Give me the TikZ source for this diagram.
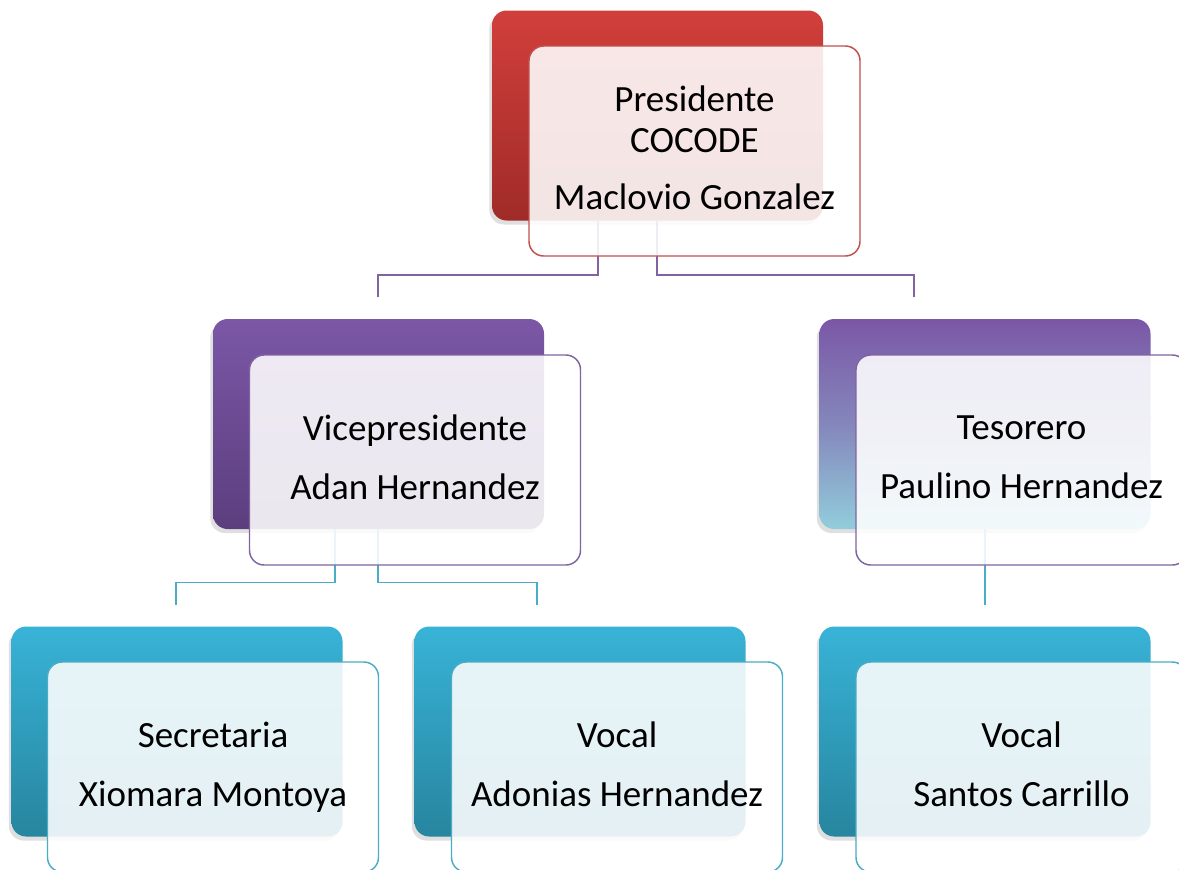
\documentclass[tikz,border=0pt]{standalone}
\usepackage{fontspec}
\setmainfont{Carlito}
\usetikzlibrary{shadows,calc}
\definecolor{cred}{HTML}{C0504D}
\definecolor{credtop}{HTML}{D13F3B}
\definecolor{credbot}{HTML}{A02B28}
\definecolor{cpur}{HTML}{8064A2}
\definecolor{cpurtop}{HTML}{7B57A6}
\definecolor{cpurbot}{HTML}{5C3E7E}
\definecolor{caqua}{HTML}{4BACC6}
\definecolor{caquatop}{HTML}{38B3D7}
\definecolor{caquabot}{HTML}{27859F}
\definecolor{clblue}{HTML}{92CDDC}
\newcommand{\dsc}{\vphantom{y}}
\tikzset{
  backbox/.style={rectangle, rounded corners=11pt, minimum width=248.25pt, minimum height=157.5pt, inner sep=0pt,
    drop shadow={shadow xshift=-2pt, shadow yshift=-3pt, opacity=0.25}},
  frontbox/.style={rectangle, rounded corners=11pt, minimum width=248.25pt, minimum height=157.5pt, inner sep=0pt,
    fill=white, fill opacity=0.88, text opacity=1, line width=1.1pt, align=center,
    font=\fontsize{27.75}{30.75}\selectfont},
  conn/.style={line width=1.1pt},
}
\begin{document}
\begin{tikzpicture}[x=0.75pt,y=-0.75pt]
\useasboundingbox (0,0) rectangle (1179,869);
% back boxes
\node[backbox, top color=credtop, bottom color=credbot] (pB) at (657.5,115.5) {};
\node[backbox, top color=cpurtop, bottom color=cpurbot] (vB) at (378.5,424) {};
\node[backbox, top color=cpurtop, bottom color=clblue, middle color=cpurtop!60!clblue] (tB) at (985,424) {};
\node[backbox, top color=caquatop, bottom color=caquabot] (sB) at (177,731.5) {};
\node[backbox, top color=caquatop, bottom color=caquabot] (mB) at (580,731.5) {};
\node[backbox, top color=caquatop, bottom color=caquabot] (rB) at (985,731.5) {};
% connector ends
\coordinate (vT) at (378,297);
\coordinate (tT) at (914,297);
\coordinate (sT) at (176,605);
\coordinate (mT) at (537,605);
\coordinate (rT) at (985,605);
% connectors
\draw[conn, cpur] ($(pB.south)+(-59.5,0)$) -- ++(0,54) -| (vT);
\draw[conn, cpur] ($(pB.south)+(-0.5,0)$) -- ++(0,54) -| (tT);
\draw[conn, caqua] ($(vB.south)+(-43.5,0)$) -- ++(0,53) -| (sT);
\draw[conn, caqua] ($(vB.south)+(-0.5,0)$) -- ++(0,53) -| (mT);
\draw[conn, caqua] (tB.south) -- (rT);
% front boxes
\node[frontbox, draw=cred] (pF) at (694.5,151) {Presidente\\COCODE\\[12pt]Maclovio Gonzalez\dsc};
\node[frontbox, draw=cpur] (vF) at (415,460) {Vicepresidente\\[13.5pt]Adan Hernandez\dsc};
\node[frontbox, draw=cpur] (tF) at (1021.5,460) {Tesorero\\[13.5pt]Paulino Hernandez\dsc};
\node[frontbox, draw=caqua] (sF) at (213,767) {Secretaria\\[13.5pt]Xiomara Montoya\dsc};
\node[frontbox, draw=caqua] (mF) at (617,767) {Vocal\\[13.5pt]Adonias Hernandez\dsc};
\node[frontbox, draw=caqua] (rF) at (1021.5,767) {Vocal\\[13.5pt]Santos Carrillo\dsc};
\end{tikzpicture}
\end{document}
